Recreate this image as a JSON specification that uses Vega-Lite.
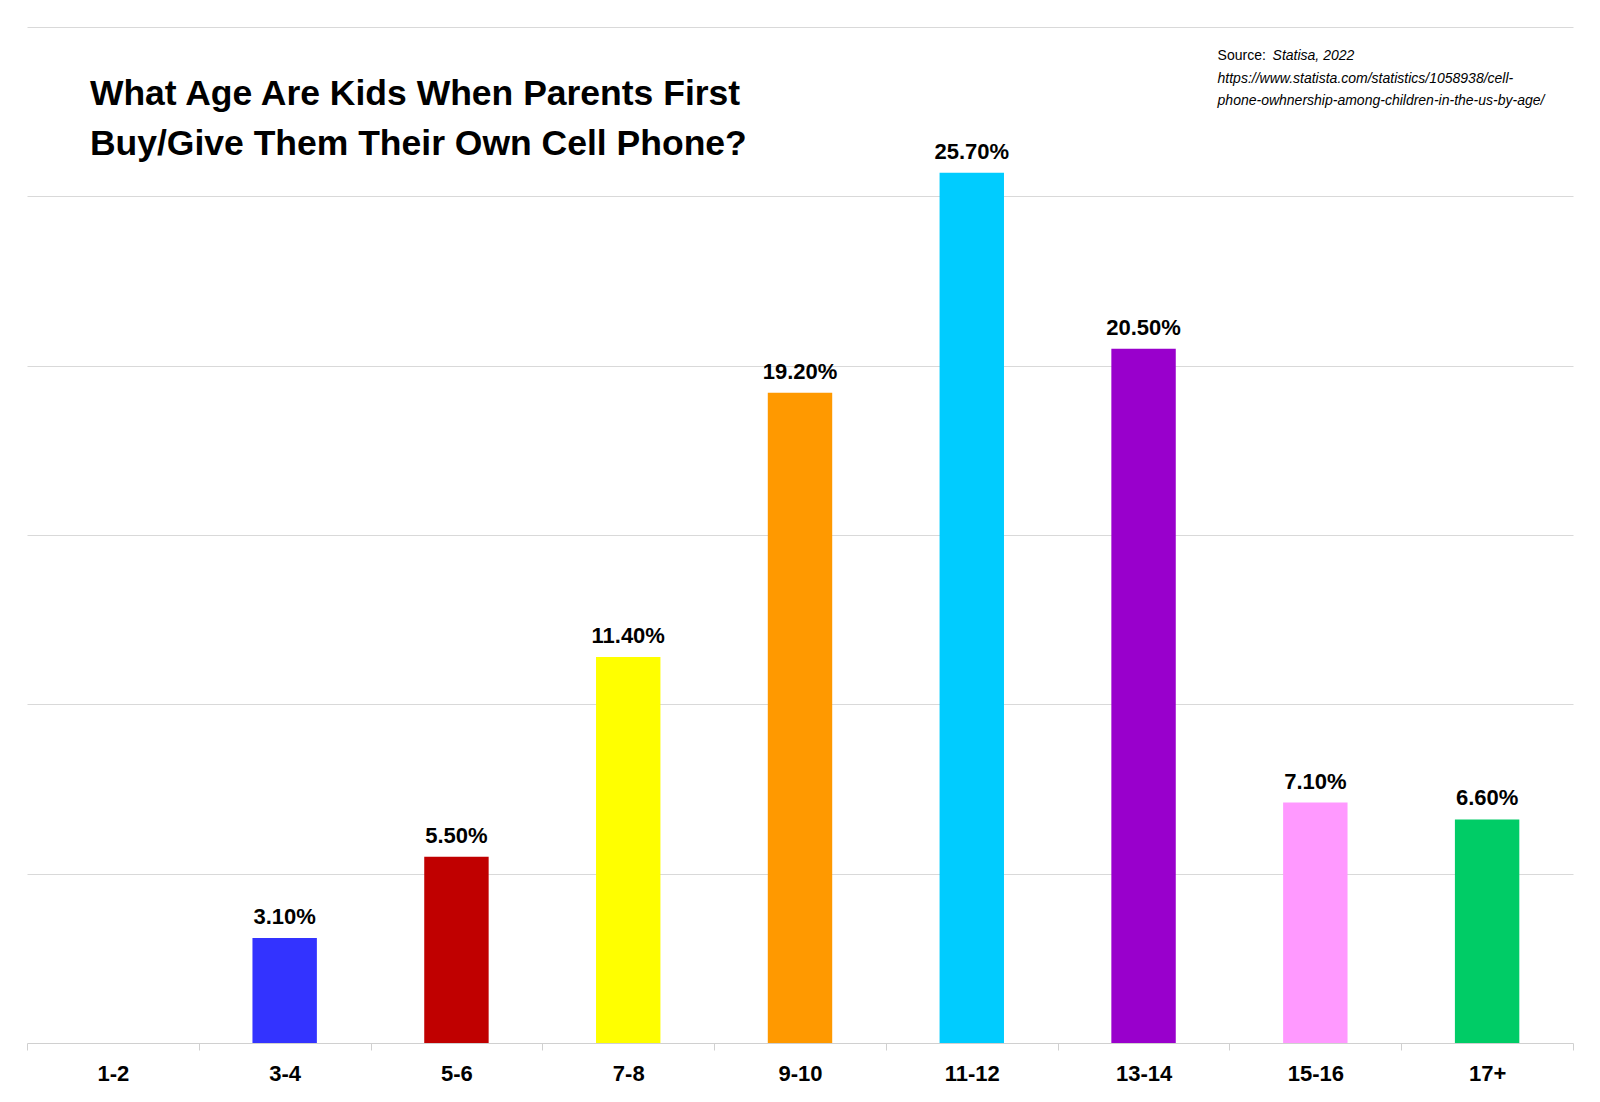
{
  "$schema": "https://vega.github.io/schema/vega-lite/v6.json",
  "width": 1546,
  "height": 1016,
  "autosize": {"type": "none"},
  "padding": {"left": 27, "top": 27, "right": 27, "bottom": 59},
  "background": "white",
  "config": {
    "view": {"stroke": null},
    "font": "Liberation Sans, Arial, sans-serif"
  },
  "datasets": {
    "shares": [
      {"age": "3-4", "share": 0.031},
      {"age": "5-6", "share": 0.055},
      {"age": "7-8", "share": 0.114},
      {"age": "9-10", "share": 0.192},
      {"age": "11-12", "share": 0.257},
      {"age": "13-14", "share": 0.205},
      {"age": "15-16", "share": 0.071},
      {"age": "17+", "share": 0.066}
    ],
    "notes": [
      {"note": "title"}
    ]
  },
  "layer": [
    {
      "data": {"name": "shares"},
      "mark": {"type": "bar", "width": {"band": 0.375}},
      "encoding": {
        "x": {
          "field": "age",
          "type": "nominal",
          "sort": null,
          "scale": {
            "domain": ["1-2", "3-4", "5-6", "7-8", "9-10", "11-12", "13-14", "15-16", "17+"],
            "paddingInner": 0,
            "paddingOuter": 0
          },
          "axis": {
            "title": null,
            "labelAngle": 0,
            "labelFontSize": 22,
            "labelFontWeight": "bold",
            "labelColor": "black",
            "tickBand": "extent",
            "ticks": true,
            "tickSize": 7,
            "tickColor": "#d0d0d0",
            "domainColor": "#d0d0d0",
            "labelPadding": 13,
            "grid": false
          }
        },
        "y": {
          "field": "share",
          "type": "quantitative",
          "scale": {"domain": [0, 0.3]},
          "axis": {
            "title": null,
            "labels": false,
            "ticks": false,
            "domain": false,
            "grid": true,
            "gridColor": "#d9d9d9",
            "values": [0.05, 0.1, 0.15, 0.2, 0.25, 0.3]
          }
        },
        "color": {
          "field": "age",
          "type": "nominal",
          "scale": {
            "domain": ["3-4", "5-6", "7-8", "9-10", "11-12", "13-14", "15-16", "17+"],
            "range": ["#3333FF", "#C00000", "#FFFF00", "#FF9900", "#00CCFF", "#9900CC", "#FF99FF", "#00CC66"]
          },
          "legend": null
        }
      }
    },
    {
      "data": {"name": "shares"},
      "mark": {"type": "text", "baseline": "alphabetic", "dy": -14, "fontSize": 22, "fontWeight": "bold", "color": "black"},
      "encoding": {
        "x": {"field": "age", "type": "nominal", "sort": null},
        "y": {"field": "share", "type": "quantitative"},
        "text": {"field": "share", "type": "quantitative", "format": ".2%"}
      }
    },
    {
      "data": {"name": "notes"},
      "mark": {"type": "text", "align": "left", "baseline": "alphabetic", "fontSize": 35.5, "fontWeight": "bold", "lineHeight": 50, "dx": -23, "color": "black"},
      "encoding": {
        "x": {"datum": "1-2", "type": "nominal"},
        "y": {"datum": 0.2770, "type": "quantitative"},
        "text": {"value": ["What Age Are Kids When Parents First", "Buy/Give Them Their Own Cell Phone?"]}
      }
    },
    {
      "data": {"name": "notes"},
      "mark": {"type": "text", "align": "left", "baseline": "alphabetic", "fontSize": 14, "dx": 74, "color": "black"},
      "encoding": {
        "x": {"datum": "13-14", "type": "nominal"},
        "y": {"datum": 0.2903, "type": "quantitative"},
        "text": {"value": "Source:"}
      }
    },
    {
      "data": {"name": "notes"},
      "mark": {"type": "text", "align": "left", "baseline": "alphabetic", "fontSize": 14, "fontStyle": "italic", "dx": 129, "color": "black"},
      "encoding": {
        "x": {"datum": "13-14", "type": "nominal"},
        "y": {"datum": 0.2903, "type": "quantitative"},
        "text": {"value": "Statisa, 2022"}
      }
    },
    {
      "data": {"name": "notes"},
      "mark": {"type": "text", "align": "left", "baseline": "alphabetic", "fontSize": 14, "fontStyle": "italic", "lineHeight": 22.5, "dx": 74, "color": "black"},
      "encoding": {
        "x": {"datum": "13-14", "type": "nominal"},
        "y": {"datum": 0.2836, "type": "quantitative"},
        "text": {"value": ["https://www.statista.com/statistics/1058938/cell-", "phone-owhnership-among-children-in-the-us-by-age/"]}
      }
    }
  ]
}
